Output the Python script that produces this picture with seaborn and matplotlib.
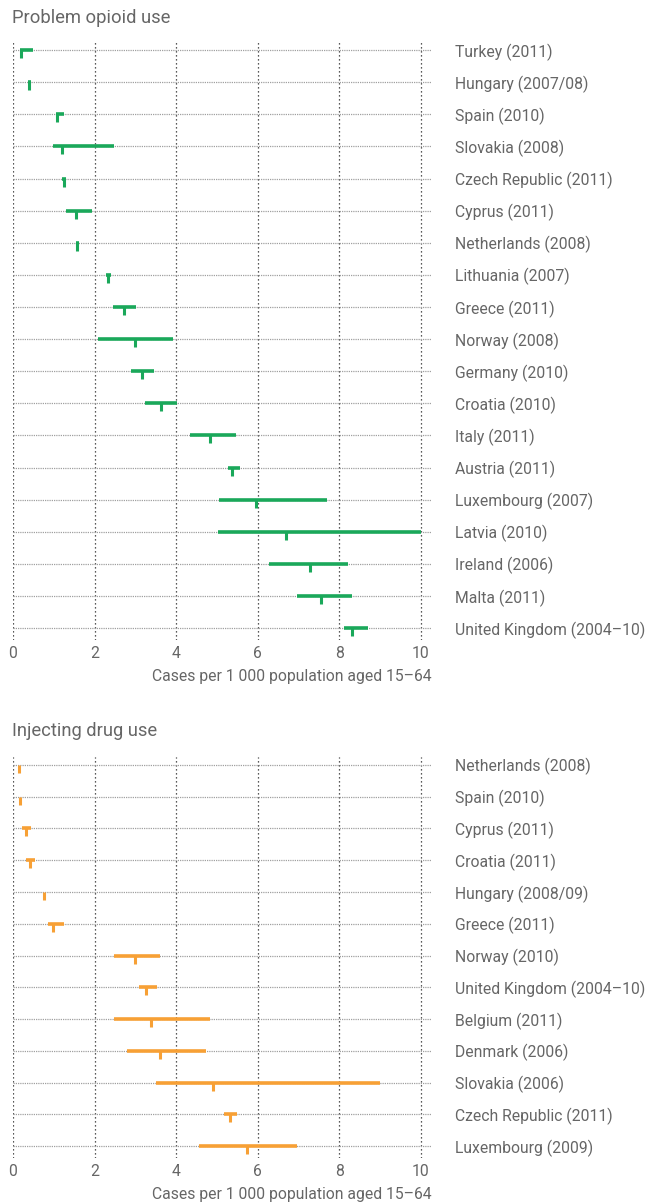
import numpy as np
import pandas as pd
import matplotlib.pyplot as plt
from matplotlib.path import Path
import seaborn as sns

sns.set_style("white")
plt.rcParams['font.family'] = ['Roboto', 'DejaVu Sans']

# Problem opioid use (cases per 1 000 population aged 15-64)
opioid_countries = ['Turkey (2011)', 'Hungary (2007/08)', 'Spain (2010)', 'Slovakia (2008)',
                    'Czech Republic (2011)', 'Cyprus (2011)', 'Netherlands (2008)',
                    'Lithuania (2007)', 'Greece (2011)', 'Norway (2008)', 'Germany (2010)',
                    'Croatia (2010)', 'Italy (2011)', 'Austria (2011)', 'Luxembourg (2007)',
                    'Latvia (2010)', 'Ireland (2006)', 'Malta (2011)', 'United Kingdom (2004–10)']
opioid_point = [0.20, 0.40, 1.09, 1.21, 1.24, 1.55, 1.58, 2.34, 2.72, 3.00, 3.17,
                3.63, 4.84, 5.37, 5.96, 6.70, 7.29, 7.56, 8.31]
opioid_low = [0.17, 0.36, 1.05, 0.99, 1.19, 1.29, 1.54, 2.28, 2.46, 2.09, 2.90,
              3.24, 4.33, 5.26, 5.05, 5.03, 6.28, 6.97, 8.12]
opioid_high = [0.49, 0.44, 1.25, 2.48, 1.31, 1.94, 1.61, 2.39, 3.01, 3.91, 3.46,
               4.02, 5.46, 5.56, 7.70, 10.00, 8.22, 8.32, 8.70]

# Injecting drug use
idu_countries = ['Netherlands (2008)', 'Spain (2010)', 'Cyprus (2011)', 'Croatia (2011)',
                 'Hungary (2008/09)', 'Greece (2011)', 'Norway (2010)',
                 'United Kingdom (2004–10)', 'Belgium (2011)', 'Denmark (2006)',
                 'Slovakia (2006)', 'Czech Republic (2011)', 'Luxembourg (2009)']
idu_point = [0.14, 0.16, 0.32, 0.41, 0.75, 0.97, 2.98, 3.26, 3.39, 3.60, 4.89, 5.33, 5.73]
idu_low = [0.14, 0.16, 0.23, 0.33, 0.75, 0.87, 2.48, 3.10, 2.48, 2.79, 3.50, 5.16, 4.56]
idu_high = [0.14, 0.16, 0.43, 0.54, 0.75, 1.26, 3.61, 3.52, 4.84, 4.73, 8.99, 5.50, 6.97]

GREEN = '#1aa85a'
ORANGE = '#f7a035'
TEXT = '#666666'
W, H = 655, 1202

fig = plt.figure(figsize=(W / 100, H / 100), dpi=100)

# tick hanging down from the range line
tick_marker = Path([(0, 0), (0, -1)], [Path.MOVETO, Path.LINETO])


def panel(top_px, bottom_px, title, title_px, countries, point, low, high, color):
    ax = fig.add_axes([13 / W, 1 - bottom_px / H, (432 - 13) / W, (bottom_px - top_px) / H])
    df = pd.DataFrame({'country': countries, 'point': point, 'low': low, 'high': high})
    ax.hlines(df['country'], df['low'], df['high'], color=color, lw=2.6, zorder=3)
    sns.scatterplot(data=df, x='point', y='country', marker=tick_marker, s=135,
                    color=color, edgecolor=color, linewidth=2.2, zorder=4, ax=ax)
    n = len(countries)
    row = (bottom_px - top_px - 12) / (n - 1)
    ax.set_ylim(n - 1 + 12 / row, -0.25)
    ax.set_xlim(0, 10.27)
    ax.set_xticks([0, 2, 4, 6, 8, 10])
    ax.yaxis.tick_right()
    ax.tick_params(axis='y', length=0, pad=16.5, labelsize=11.3, labelcolor=TEXT)
    ax.tick_params(axis='x', length=0, pad=4, labelsize=11.3, labelcolor=TEXT)
    ax.xaxis.grid(True, linestyle=(0, (1, 2.2)), color='#222222', lw=0.9)
    ax.yaxis.grid(True, linestyle=(0, (1, 0.8)), color='#a0a0a0', lw=0.9)
    ax.set_axisbelow(True)
    for s in ax.spines.values():
        s.set_visible(False)
    ax.set_ylabel('')
    ax.set_xlabel('Cases per 1 000 population aged 15–64', loc='right',
                  fontsize=11.3, color=TEXT, labelpad=6)
    fig.text(12 / W, 1 - title_px / H, title, fontsize=13.2, color=TEXT, va='center')
    return ax


panel(42, 640, 'Problem opioid use', 18, opioid_countries, opioid_point, opioid_low, opioid_high, GREEN)
panel(757, 1158, 'Injecting drug use', 731, idu_countries, idu_point, idu_low, idu_high, ORANGE)

fig.savefig('out.png', dpi=100)
